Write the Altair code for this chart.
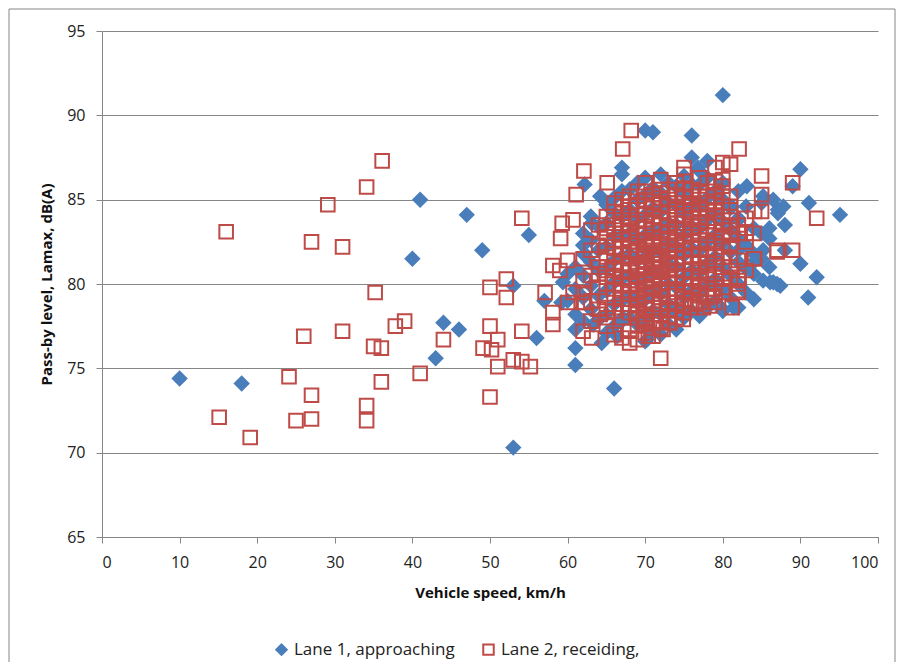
import altair as alt
import pandas as pd

# ---- Lane 1, approaching (blue diamonds) ----
lane1_outer = [
    (10, 74.4), (18, 74.1), (40, 81.5), (41, 85.0), (43, 75.6), (44, 77.7), (46, 77.3),
    (47, 84.1), (49, 82.0), (53, 79.9), (53, 70.3), (55, 82.9), (56, 76.8), (57, 79.0),
    (59.2, 78.9), (59.4, 80.1), (61, 77.3), (61, 76.2), (61, 75.2), (62, 82.3), (62.2, 81.7),
    (62.2, 81.8), (62.2, 85.9), (63.1, 83.6), (63.3, 77.6), (64.2, 85.2), (64.4, 76.5),
    (65, 77.1), (66, 73.8), (66.4, 76.9), (67, 86.9), (67, 86.5), (67.1, 78.0), (70, 89.1),
    (71, 89.0), (70.2, 76.7), (73.6, 78.5), (76, 88.8), (76, 87.5), (76.8, 86.9), (78, 87.3),
    (80, 91.2), (80, 78.5), (81.2, 84.6), (81.4, 78.6), (82, 85.5), (82, 83.8), (82, 82.0),
    (83.1, 85.8), (84, 79.1), (84.2, 81.4), (85.2, 85.2), (85.2, 82.0), (85.2, 80.2),
    (86, 83.3), (86.1, 80.1), (86.5, 85.0), (86.5, 80.1), (87, 80.0), (87.1, 84.4),
    (87.1, 84.2), (87.4, 79.9), (87.8, 84.6), (88, 83.5), (88, 82.0), (89, 85.8),
    (90, 86.8), (90, 81.2), (91, 79.2), (91.1, 84.8), (92.1, 80.4), (95.1, 84.1),
]
lane1_cluster = {
    60: [79.0, 80.6],
    61: [78.2, 79.7, 81.0],
    62: [77.8, 79.2, 80.5, 83.0],
    63: [78.5, 79.9, 81.3, 82.6, 84.0],
    64: [77.9, 79.3, 80.8, 82.0, 83.4],
    65: [78.2, 79.6, 80.9, 82.2, 83.6, 84.7],
    66: [77.5, 78.8, 80.1, 81.4, 82.8, 84.2, 85.1],
    67: [77.8, 79.0, 80.3, 81.6, 82.9, 84.0, 85.5],
    68: [78.0, 79.3, 80.5, 81.8, 83.0, 84.4, 85.6],
    69: [77.6, 78.9, 80.2, 81.4, 82.6, 83.9, 85.0, 86.0],
    70: [76.6, 77.9, 79.1, 80.4, 81.6, 82.9, 84.1, 85.3, 86.3],
    71: [77.2, 78.4, 79.6, 80.8, 82.0, 83.2, 84.5, 85.7],
    72: [77.0, 78.2, 79.4, 80.6, 81.9, 83.1, 84.3, 85.4, 86.5],
    73: [77.6, 78.8, 80.0, 81.2, 82.4, 83.6, 84.8, 86.0],
    74: [77.3, 78.5, 79.8, 81.0, 82.2, 83.5, 84.7, 85.8],
    75: [78.0, 79.2, 80.4, 81.7, 82.9, 84.2, 85.4, 86.4],
    76: [78.4, 79.6, 80.8, 82.1, 83.4, 84.6, 85.9],
    77: [78.1, 79.4, 80.7, 82.0, 83.3, 84.6, 85.9, 86.7],
    78: [78.6, 79.9, 81.2, 82.5, 83.8, 85.1, 86.3],
    79: [79.0, 80.3, 81.6, 82.9, 84.2, 85.5],
    80: [78.4, 79.7, 81.0, 82.4, 83.7, 85.0, 86.0],
    81: [79.2, 80.5, 81.9, 83.2, 84.5],
    82: [78.6, 80.0, 81.3, 82.7, 83.9],
    83: [79.5, 80.9, 82.3, 84.6],
    84: [80.6, 81.8, 83.3],
    85: [81.5, 83.0, 84.8],
    86: [81.0, 82.7],
}

# ---- Lane 2, receiding (red open squares) ----
lane2_outer = [
    (15.1, 72.1), (16, 83.1), (19.1, 70.9), (24.1, 74.5), (25, 71.9), (26, 76.9),
    (27, 82.5), (27, 73.4), (27, 72.0), (29.1, 84.7), (31, 82.2), (31, 77.2),
    (34.1, 85.75), (34.1, 72.8), (34.1, 71.9), (35, 76.3), (35.2, 79.5), (36, 76.2),
    (36, 74.2), (36.1, 87.3), (37.8, 77.5), (39, 77.8), (41, 74.7), (44, 76.7),
    (49.1, 76.2), (50, 79.8), (50, 77.5), (50, 73.3), (50.2, 76.1), (51, 76.7),
    (51, 75.1), (52.1, 80.3), (52.1, 79.2), (53, 75.5), (54.1, 83.9), (54.1, 77.2),
    (54.1, 75.4), (55.2, 75.1), (57.1, 79.5), (58.1, 81.1), (58.1, 78.3), (58.1, 77.6),
    (59, 80.8), (59.1, 82.7), (59.3, 83.6), (60, 81.4), (60, 78.9), (60.7, 83.8),
    (60.7, 79.5), (61.1, 85.3), (62, 77.2), (62.1, 86.7), (62.2, 78.9), (63.1, 76.8),
    (64.2, 78.2), (65.1, 86.0), (65.1, 78.0), (67.1, 88.0), (68, 76.5), (68.2, 89.1),
    (69, 76.7), (69.7, 77.8), (70.4, 76.9), (72, 75.6), (72.3, 77.3), (73.2, 77.7),
    (74.9, 77.9), (75, 86.9), (76.4, 78.8), (77.5, 78.6), (78.4, 78.7), (78.7, 79.3),
    (79, 86.9), (80, 87.2), (80, 79.5), (81, 87.1), (81.2, 78.6), (82, 80.2), (82, 79.5),
    (82.1, 88.0), (82.1, 80.4), (83, 83.0), (84, 83.0), (84, 81.5), (84.1, 84.3),
    (84.1, 81.5), (85, 86.4), (85, 85.3), (85, 84.3), (87, 82.0), (87, 81.9),
    (89, 86.0), (89, 82.0), (92.1, 83.9),
]
lane2_cluster = {
    62: [78.9, 80.2, 81.5, 79.5],
    63: [79.0, 80.5, 82.0, 83.2, 77.8],
    64: [78.5, 79.8, 81.0, 82.3, 83.5, 80.6],
    65: [77.5, 79.2, 80.4, 81.6, 82.8, 84.0, 78.6, 80.0, 81.0, 82.2, 83.3],
    66: [77.0, 78.4, 79.7, 80.9, 81.8, 82.6, 83.8, 84.8, 79.2, 80.4, 81.3, 82.2, 83.2, 84.3],
    67: [76.8, 78.0, 79.1, 80.3, 81.2, 82.1, 83.0, 84.2, 85.0, 79.6, 78.6, 79.9, 80.8,
         81.7, 82.6, 83.6, 84.6],
    68: [77.2, 78.3, 79.4, 80.0, 80.8, 81.5, 82.3, 83.1, 84.0, 85.2, 80.4, 78.8, 79.9,
         81.1, 81.9, 82.7, 83.6, 84.6],
    69: [77.6, 78.7, 79.6, 80.5, 81.0, 81.7, 82.5, 83.3, 84.4, 85.5, 79.1, 80.2, 78.2,
         79.2, 80.0, 80.9, 82.0, 82.9, 83.8, 84.9],
    70: [77.1, 78.0, 78.9, 79.8, 80.6, 81.3, 81.9, 82.6, 83.4, 84.1, 85.0, 86.0, 80.1,
         77.6, 78.5, 79.3, 80.3, 81.0, 81.6, 82.3, 83.0, 83.8, 84.6, 85.5],
    71: [76.9, 77.8, 78.6, 79.4, 80.2, 80.9, 81.5, 82.2, 82.8, 83.6, 84.5, 85.3, 79.9,
         77.4, 78.2, 79.0, 79.7, 80.5, 81.2, 81.8, 82.5, 83.2, 84.0, 84.9],
    72: [77.4, 78.4, 79.2, 80.0, 80.7, 81.4, 82.0, 82.7, 83.5, 84.3, 85.1, 86.2, 78.8,
         77.8, 78.6, 79.6, 80.3, 81.0, 81.7, 82.4, 83.1, 83.9, 84.7, 85.6],
    73: [77.7, 78.5, 79.3, 80.1, 80.8, 81.6, 82.3, 83.0, 83.8, 84.6, 85.6, 81.1,
         78.1, 78.9, 79.7, 80.4, 81.3, 82.0, 82.7, 83.4, 84.2, 85.0],
    74: [78.0, 78.9, 79.7, 80.5, 81.2, 81.9, 82.6, 83.3, 84.0, 84.8, 86.0, 79.5,
         78.4, 79.3, 80.1, 80.8, 81.5, 82.3, 83.0, 83.6, 84.4, 85.3],
    75: [78.3, 79.1, 80.0, 80.8, 81.6, 82.4, 83.2, 84.1, 85.1, 86.5,
         78.7, 79.6, 80.4, 81.2, 82.0, 82.8, 83.6, 84.6, 85.6],
    76: [78.6, 79.5, 80.4, 81.3, 82.1, 83.0, 83.9, 84.7, 85.6,
         79.0, 79.9, 80.8, 81.7, 82.5, 83.4, 84.3, 85.2],
    77: [78.9, 79.8, 80.7, 81.7, 82.6, 83.6, 84.5, 85.4, 86.3,
         79.3, 80.2, 81.2, 82.1, 83.1, 84.0, 85.0],
    78: [79.2, 80.3, 81.3, 82.4, 83.4, 84.4, 85.2, 86.0, 79.7, 80.8, 81.8, 82.9, 83.9, 84.8],
    79: [78.9, 80.0, 81.2, 82.5, 83.7, 84.9, 86.1, 79.5, 80.6, 81.8, 83.1, 84.3, 85.5],
    80: [79.8, 81.0, 82.2, 83.5, 84.6, 85.8, 86.2, 80.4, 81.6, 82.8, 84.0, 85.2],
    81: [80.3, 81.6, 82.9, 84.0, 85.2, 81.0, 82.3, 83.4, 84.6],
    82: [79.6, 81.4, 83.0, 83.5, 80.0],
    83: [80.8, 82.5, 83.9],
}

series_names = ["Lane 1, approaching", "Lane 2, receiding,"]
x_ticks = [0, 10, 20, 30, 40, 50, 60, 70, 80, 90, 100]
y_ticks = [65, 70, 75, 80, 85, 90, 95]

rows = []
for name, outer, cluster in [(series_names[0], lane1_outer, lane1_cluster),
                             (series_names[1], lane2_outer, lane2_cluster)]:
    for s, l in outer:
        rows.append({"speed": s, "level": l, "series": name})
    for s, levels in cluster.items():
        for l in levels:
            rows.append({"speed": s, "level": l, "series": name})
df = pd.DataFrame(rows)

FONT = "Open Sans"
GRAY = "#868686"


def legend():
    return alt.Legend(title=None, orient="none", legendX=171, legendY=610,
                      direction="horizontal", columnPadding=24, labelLimit=400,
                      labelFontSize=17, labelFont=FONT, labelColor="#222222",
                      symbolSize=110, symbolStrokeWidth=2)


points = alt.Chart(df).mark_point(size=185, strokeWidth=2, opacity=1).encode(
    x=alt.X("speed:Q", scale=alt.Scale(domain=[0, 100], nice=False),
            axis=alt.Axis(values=x_ticks, title="Vehicle speed, km/h", grid=False,
                          labelPadding=11, titlePadding=15)),
    y=alt.Y("level:Q", scale=alt.Scale(domain=[65, 95], nice=False, zero=False),
            axis=alt.Axis(values=y_ticks, title="Pass-by level, Lamax, dB(A)", grid=True,
                          labelPadding=11, titlePadding=12)),
    shape=alt.Shape("series:N", scale=alt.Scale(domain=series_names, range=["diamond", "square"]),
                    legend=legend()),
    fill=alt.Fill("series:N", scale=alt.Scale(domain=series_names, range=["#4A7EBB", "transparent"]),
                  legend=legend()),
    stroke=alt.Stroke("series:N", scale=alt.Scale(domain=series_names, range=["#4A7EBB", "#BE4B48"]),
                      legend=legend()),
)

border = alt.Chart(pd.DataFrame({"k": [0]})).mark_rect(
    fill="transparent", stroke=GRAY, strokeWidth=1, clip=False
).encode(
    x=alt.value(-93), x2=alt.value(793), y=alt.value(-22), y2=alt.value(660)
)

chart = alt.layer(border, points).properties(
    width=776, height=506,
    padding={"left": 94, "top": 23, "right": 18, "bottom": 125},
    autosize=alt.AutoSizeParams(type="none"),
    background="white",
).configure_view(strokeWidth=0).configure_axis(
    labelFont=FONT, titleFont=FONT, labelFontSize=16, titleFontSize=15,
    labelColor="#222222", titleColor="#111111", titleFontWeight="bold",
    domainColor=GRAY, tickColor=GRAY, gridColor=GRAY, gridWidth=1,
    tickSize=6,
)

chart.save("out.html", embed_options={"renderer": "svg", "actions": False})
